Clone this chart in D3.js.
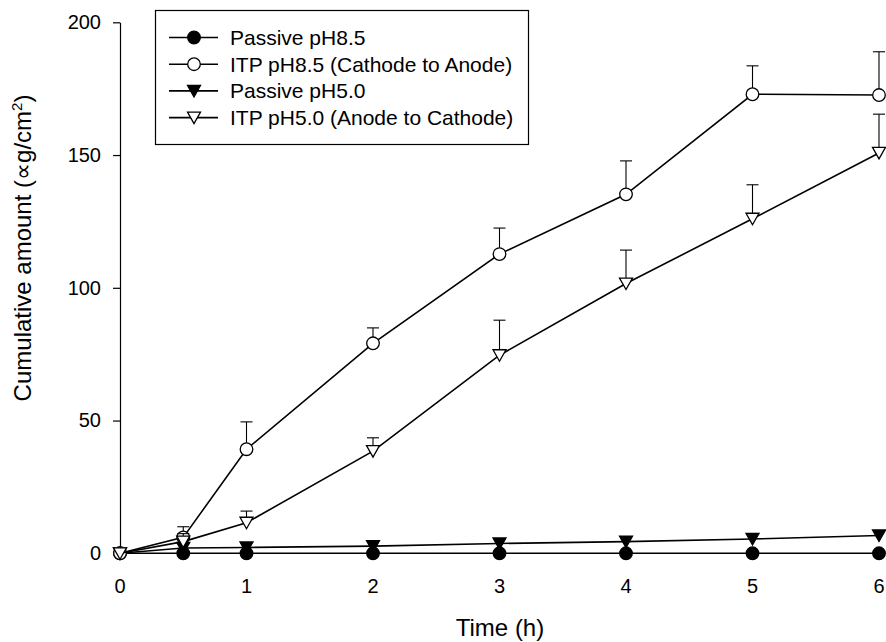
<!DOCTYPE html>
<html>
<head>
<meta charset="utf-8">
<script src="https://cdn.jsdelivr.net/npm/d3@7"></script>
<style>
  body { margin: 0; background: #fff; }
  svg { display: block; font-family: "Liberation Sans", Arial, sans-serif; }
</style>
</head>
<body>
<svg id="chart"></svg>
<script>
const fullWidth = 886;
const fullHeight = 642;

// time points (h)
const times = [0, 0.5, 1, 2, 3, 4, 5, 6];

// series values and upper error bars (ug/cm2)
const passive85 = [0, 0, 0, 0, 0, 0, 0, 0];
const passive85Err = [0, 0, 0, 0, 0, 0, 0, 0];
const itp85 = [0, 6.0, 39.2, 79.1, 112.7, 135.2, 172.9, 172.6];
const itp85Err = [0, 4.0, 10.3, 5.8, 9.8, 12.6, 10.7, 16.3];
const passive50 = [0, 2.0, 2.2, 2.7, 3.7, 4.4, 5.4, 6.7];
const passive50Err = [0, 0, 0, 0, 0, 0, 0, 0];
const itp50 = [0, 4.4, 11.5, 38.5, 74.6, 101.6, 126.0, 150.8];
const itp50Err = [0, 3.0, 4.4, 5.0, 13.2, 12.6, 12.8, 14.6];

const seriesNames = [
    'Passive pH8.5',
    'ITP pH8.5 (Cathode to Anode)',
    'Passive pH5.0',
    'ITP pH5.0 (Anode to Cathode)'
];

const xTicks = [0, 1, 2, 3, 4, 5, 6];
const yTicks = [0, 50, 100, 150, 200];

const series = [
    {name: seriesNames[0], values: passive85, errs: passive85Err, shape: 'circle', fill: '#000'},
    {name: seriesNames[1], values: itp85, errs: itp85Err, shape: 'circle', fill: '#fff'},
    {name: seriesNames[2], values: passive50, errs: passive50Err, shape: 'triangle', fill: '#000'},
    {name: seriesNames[3], values: itp50, errs: itp50Err, shape: 'triangle', fill: '#fff'},
];

// passive series are drawn underneath
const drawOrder = [0, 2, 1, 3];

const xScale = d3.scaleLinear()
    .domain([0, 6])
    .range([120, 879]);

const yScale = d3.scaleLinear()
    .domain([0, 200])
    .range([553.3, 22.3]);

const svg = d3.select('#chart')
    .attr('width', fullWidth)
    .attr('height', fullHeight);

const trianglePath = 'M-6.5,-5.5 L6.5,-5.5 L0,6 Z';

function drawMarker(sel, s) {
    if (s.shape === 'circle') {
        sel.append('circle')
            .attr('r', 6.3)
            .attr('fill', s.fill)
            .attr('stroke', '#000')
            .attr('stroke-width', 1.3);
    } else {
        sel.append('path')
            .attr('d', trianglePath)
            .attr('fill', s.fill)
            .attr('stroke', '#000')
            .attr('stroke-width', 1.3)
            .attr('stroke-linejoin', 'miter');
    }
}

// y axis: line with outward ticks, no x axis line
const yAxis = d3.axisLeft(yScale)
    .tickValues(yTicks)
    .tickSize(7)
    .tickPadding(12)
    .tickSizeOuter(0);

const gy = svg.append('g')
    .attr('class', 'axis axis--y')
    .attr('transform', `translate(${xScale(0)},0)`)
    .call(yAxis);

gy.select('.domain').attr('stroke', '#000').attr('stroke-width', 1.2);
gy.selectAll('.tick line').attr('stroke', '#000').attr('stroke-width', 1.2);
gy.selectAll('.tick text')
    .attr('font-size', 20)
    .attr('fill', '#000')
    .attr('font-family', '"Liberation Sans", Arial, sans-serif');

// x tick labels only
svg.append('g').attr('class', 'axis axis--x')
    .selectAll('text').data(xTicks)
    .enter().append('text')
        .attr('x', d => xScale(d))
        .attr('y', 593)
        .attr('text-anchor', 'middle')
        .attr('font-size', 20)
        .text(d => d);

// axis titles
svg.append('text')
    .attr('x', 500)
    .attr('y', 636)
    .attr('text-anchor', 'middle')
    .attr('font-size', 24)
    .text('Time (h)');

const yTitle = svg.append('text')
    .attr('transform', 'translate(31,248) rotate(-90)')
    .attr('text-anchor', 'middle')
    .attr('font-size', 24);
yTitle.append('tspan').text('Cumulative amount (\u221Dg/cm');
yTitle.append('tspan').attr('font-size', 15).attr('dy', -9).text('2');
yTitle.append('tspan').attr('dy', 9).text(')');

// data
const line = d3.line()
    .x(d => xScale(d.t))
    .y(d => yScale(d.v));

drawOrder.forEach((i) => {
    const s = series[i];
    const pts = times.map((t, j) => ({t, v: s.values[j], e: s.errs[j]}));
    const g = svg.append('g').attr('class', `series series--${i}`);

    g.append('path')
        .datum(pts)
        .attr('d', line)
        .attr('fill', 'none')
        .attr('stroke', '#000')
        .attr('stroke-width', 1.6);

    const err = g.selectAll('.err').data(pts.filter(d => d.e > 0))
        .enter().append('g')
            .attr('class', 'err');
    err.append('line')
        .attr('x1', d => xScale(d.t)).attr('x2', d => xScale(d.t))
        .attr('y1', d => yScale(d.v)).attr('y2', d => yScale(d.v + d.e))
        .attr('stroke', '#000').attr('stroke-width', 1.1);
    err.append('line')
        .attr('x1', d => xScale(d.t) - 6).attr('x2', d => xScale(d.t) + 6)
        .attr('y1', d => yScale(d.v + d.e)).attr('y2', d => yScale(d.v + d.e))
        .attr('stroke', '#000').attr('stroke-width', 1.1);

    g.selectAll('.marker').data(pts)
        .enter().append('g')
            .attr('class', 'marker')
            .attr('transform', d => `translate(${xScale(d.t)},${yScale(d.v)})`)
            .each(function() { drawMarker(d3.select(this), s); });
});

// legend
const legend = svg.append('g').attr('class', 'legend');
legend.append('rect')
    .attr('x', 155.5).attr('y', 10.5)
    .attr('width', 373).attr('height', 134)
    .attr('fill', '#fff')
    .attr('stroke', '#000')
    .attr('stroke-width', 1.2);

const item = legend.selectAll('.item').data(series)
    .enter().append('g')
        .attr('class', 'item')
        .attr('transform', (d, i) => `translate(0,${37.5 + i * 26.7})`);

item.append('line')
    .attr('x1', 169).attr('x2', 218)
    .attr('y1', 0).attr('y2', 0)
    .attr('stroke', '#000').attr('stroke-width', 1.6);

item.append('g')
    .attr('transform', 'translate(194,0)')
    .each(function(d) { drawMarker(d3.select(this), d); });

item.append('text')
    .attr('x', 230)
    .attr('y', 7.5)
    .attr('font-size', 21)
    .text(d => d.name);
</script>
</body>
</html>
